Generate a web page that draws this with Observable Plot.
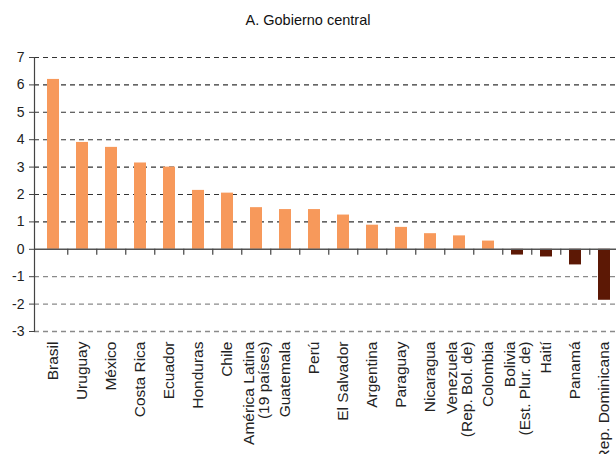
<!DOCTYPE html>
<html><head><meta charset="utf-8">
<script src="https://cdn.jsdelivr.net/npm/d3@7"></script>
<script src="https://cdn.jsdelivr.net/npm/@observablehq/plot@0.6"></script>
<style>
html,body{margin:0;padding:0;overflow:hidden;background:#fff;}
body{font-family:"Liberation Sans",Arial,sans-serif;width:616px;height:454px;position:relative;}
#title{position:absolute;left:0;top:11px;width:616px;text-align:center;font-size:14.5px;line-height:18px;color:#111;}
#chart{position:absolute;left:0;top:36px;}
</style>
</head><body>
<div id="title">A. Gobierno central</div>
<div id="chart"></div>
<script>
const title = "A. Gobierno central";
const categories = ["Brasil","Uruguay","México","Costa Rica","Ecuador","Honduras","Chile","América Latina\n(19 países)","Guatemala","Perú","El Salvador","Argentina","Paraguay","Nicaragua","Venezuela\n(Rep. Bol. de)","Colombia","Bolivia\n(Est. Plur. de)","Haití","Panamá","Rep. Dominicana"];
const values = [6.2,3.9,3.72,3.15,3.0,2.15,2.05,1.52,1.45,1.45,1.25,0.88,0.8,0.57,0.49,0.3,-0.21,-0.28,-0.57,-1.86];
const yTicks = [-3,-2,-1,0,1,2,3,4,5,6,7];

const data = categories.map((c,i)=>({country:c, value:values[i]}));
const xRange = [33.5, 623];
const padIn = 0.6, padOut = 0.3;
const step = (xRange[1]-xRange[0])/(categories.length - padIn + 2*padOut);

const plot = Plot.plot({
  width: 616,
  height: 418,
  marginTop: 21,
  marginBottom: 123,
  marginLeft: 34,
  marginRight: 0,
  style: {fontFamily: '"Liberation Sans", Arial, sans-serif', background: "#fff", overflow: "visible"},
  x: {domain: categories, range: xRange, paddingInner: padIn, paddingOuter: padOut},
  y: {domain: [-3, 7]},
  marks: [
    Plot.ruleY(yTicks.filter(d => d > 0), {stroke: "#333", strokeDasharray: "5,4", strokeWidth: 1.1}),
    Plot.ruleY(yTicks.filter(d => d < 0), {stroke: "#8a8a8a", strokeDasharray: "5,4", strokeWidth: 1.3}),
    Plot.barY(data, {x: "country", y: "value", fill: d => d.value >= 0 ? "#F7995B" : "#5C1805"}),
    Plot.ruleY([0], {stroke: "#555", strokeWidth: 1.5}),
    Plot.ruleX(categories.slice(1), {x: d => d, y1: 0, y2: 0, dx: -step/2, insetBottom: -6, stroke: "#444", strokeWidth: 1.2}),
    Plot.frame({anchor: "left", stroke: "#444", strokeWidth: 1.2}),
    Plot.axisY({ticks: yTicks, tickSize: 5, tickPadding: 5, fontSize: 14, label: null, tickFormat: d => String(d), stroke: "#444", color: "#222"}),
    Plot.axisX({anchor: "bottom", tickRotate: -90, tickSize: 0, tickPadding: 10, fontSize: 15.5, label: null, color: "#222"})
  ]
});
document.getElementById("chart").appendChild(plot);
</script>
</body></html>
